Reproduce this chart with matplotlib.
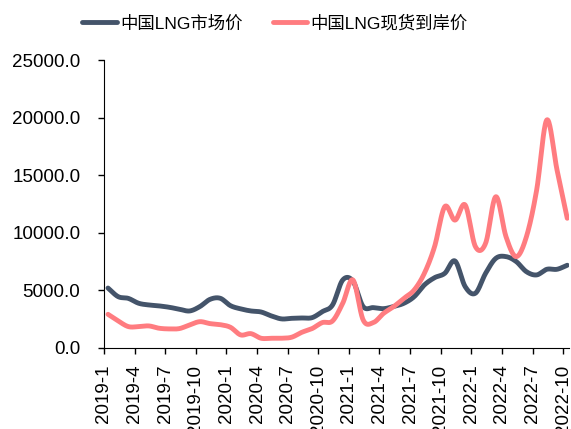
import numpy as np
import matplotlib.pyplot as plt

plt.rcParams['font.family'] = ['Liberation Sans', 'Noto Sans CJK SC', 'DejaVu Sans']

months = [f'{y}-{m}' for y in range(2019, 2023) for m in range(1, 13)][:46]

market = [5200, 4450, 4300, 3880, 3730, 3650, 3530, 3360, 3210, 3590,
          4220, 4310, 3670, 3390, 3210, 3120, 2780, 2520, 2570, 2600,
          2630, 3150, 3730, 5900, 5800, 3590, 3500, 3410, 3600, 3880,
          4450, 5470, 6100, 6480, 7550, 5320, 4750, 6480, 7780, 7930,
          7500, 6620, 6340, 6830, 6830, 7180]

spot = [2920, 2340, 1850, 1850, 1910, 1710, 1650, 1680, 2000, 2280,
        2110, 2020, 1790, 1130, 1240, 840, 840, 840, 930, 1360,
        1680, 2200, 2340, 3880, 5900, 2430, 2200, 3000, 3590, 4310,
        5030, 6480, 8800, 12270, 11100, 12410, 8800, 9090, 13130, 9660,
        7930, 9660, 13700, 19800, 15450, 11260]


def smooth(x, y, n=20):
    # catmull-rom, roughly what excel does for smoothed lines
    x = np.asarray(x, float)
    y = np.asarray(y, float)
    px = np.concatenate([[2 * x[0] - x[1]], x, [2 * x[-1] - x[-2]]])
    py = np.concatenate([[2 * y[0] - y[1]], y, [2 * y[-1] - y[-2]]])
    xs, ys = [], []
    t = np.linspace(0, 1, n, endpoint=False)
    for i in range(1, len(px) - 2):
        for p, out in ((px, xs), (py, ys)):
            p0, p1, p2, p3 = p[i - 1], p[i], p[i + 1], p[i + 2]
            out.append(0.5 * (2 * p1 + (p2 - p0) * t
                              + (2 * p0 - 5 * p1 + 4 * p2 - p3) * t ** 2
                              + (3 * p1 - p0 - 3 * p2 + p3) * t ** 3))
    xs.append([x[-1]])
    ys.append([y[-1]])
    return np.concatenate(xs), np.concatenate(ys)


fig = plt.figure(figsize=(5.71, 4.29), dpi=100)
ax = fig.add_axes([0.182, 0.189, 0.815, 0.671])

pos = np.arange(len(months)) + 0.4
sx, sy = smooth(pos, market)
ax.plot(sx, sy, color='#44546A', lw=3.5, solid_capstyle='round', label='中国LNG市场价')
sx, sy = smooth(pos, spot)
ax.plot(sx, sy, color='#FF7C80', lw=3.5, solid_capstyle='round', label='中国LNG现货到岸价')

ax.set_xlim(0, 45.6)
ax.set_ylim(0, 25000)
ax.set_yticks(np.arange(0, 25001, 5000))
ax.set_yticklabels([f'{v:.1f}' for v in np.arange(0, 25001, 5000)], fontsize=13.5)
ax.set_xticks(np.arange(0, 46, 3))
ax.set_xticklabels(months[::3], rotation=90, fontsize=13.5)
ax.tick_params(direction='out', length=4, width=1, color='black')
ax.tick_params(axis='y', pad=13)
ax.tick_params(axis='x', pad=8)

for s in ['top', 'right']:
    ax.spines[s].set_visible(False)
for s in ['left', 'bottom']:
    ax.spines[s].set_color('black')

ax.legend(loc='center', bbox_to_anchor=(0.368, 1.128), ncol=2, frameon=False,
          prop={'family': ['Liberation Sans', 'Noto Sans CJK SC'], 'size': 12.5},
          handlelength=2.0, columnspacing=1.7, handletextpad=0.2)

fig.savefig('out.png', dpi=100)
